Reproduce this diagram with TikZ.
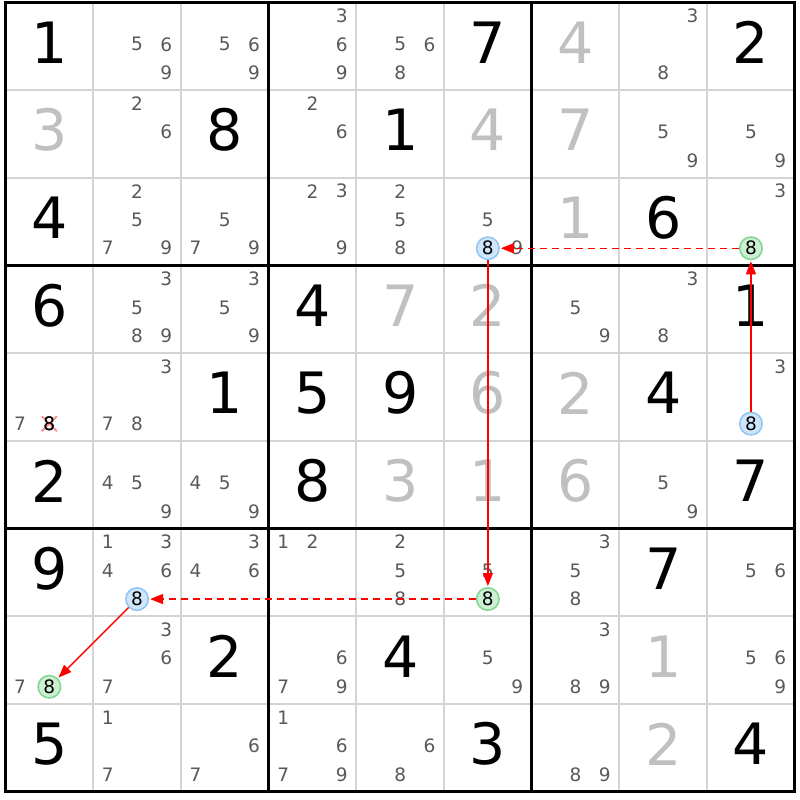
\documentclass[tikz,border=0pt]{standalone}
\usepackage{fontspec}
\setmainfont{DejaVu Sans}
\usetikzlibrary{arrows.meta}
\definecolor{candgrey}{HTML}{595959}
\definecolor{solvedgrey}{HTML}{C0C0C0}
\definecolor{thingrid}{HTML}{D4D4D4}
\definecolor{bluefill}{HTML}{CFE6FA}
\definecolor{blueline}{HTML}{8EC5F2}
\definecolor{greenfill}{HTML}{CDEFD2}
\definecolor{greenline}{HTML}{7FD68E}
\definecolor{linkred}{HTML}{FF0000}
\newcommand\givenat[3]{\node[givenst] (n#1#2) at ({5.5+87.7*(#2+0.5)},{2.5+87.7*(#1+0.5)-4}) {#3};}
\newcommand\solvedat[3]{\node[solvedst] (n#1#2) at ({5.5+87.7*(#2+0.5)},{2.5+87.7*(#1+0.5)-4}) {#3};}
\newcommand\candsat[3]{%
  \foreach \d in {#3}{%
    \pgfmathsetmacro\cx{5.5+87.7*(#2+0.5)+29.3*(mod(\d-1,3)-1)}%
    \pgfmathsetmacro\cy{2.5+87.7*(#1+0.5)-2+28.5*(floor((\d-1)/3)-1)}%
    \node[candst] (k#1#2\d) at (\cx,\cy) {\d};}}
% circled candidate: row, col, digit, style, name
\newcommand\circat[5]{%
  \pgfmathsetmacro\cx{5.5+87.7*(#2+0.5)+29.3*(mod(#3-1,3)-1)}%
  \pgfmathsetmacro\cy{2.5+87.7*(#1+0.5)-2+28.5*(floor((#3-1)/3)-1)}%
  \node[#4] (#5) at (\cx,\cy) {#3};}
\begin{document}
\begin{tikzpicture}[x=1pt,y=-1pt,
  givenst/.style={inner sep=0pt, font=\fontsize{57}{57}\selectfont, text=black},
  solvedst/.style={givenst, text=solvedgrey},
  candst/.style={inner sep=0pt, font=\fontsize{18.5}{18.5}\selectfont, text=candgrey},
  bluec/.style={circle, draw=blueline, fill=bluefill, line width=1.5pt, minimum size=22.5pt, inner sep=0pt, font=\fontsize{18.5}{18.5}\selectfont, text=black},
  greenc/.style={bluec, draw=greenline, fill=greenfill},
  plainblack/.style={inner sep=0pt, font=\fontsize{18.5}{18.5}\selectfont, text=black},
  stronglink/.style={draw=linkred, line width=1.3pt, -{Triangle[length=13pt,width=10pt,fill=linkred]}, shorten >=1pt},
  weaklink/.style={stronglink, line width=1.4pt, dash pattern=on 7pt off 5pt}
]
\useasboundingbox (0,0) rectangle (800,800);
\fill[white] (0,0) rectangle (800,800);
% thin grid
\foreach \i in {1,2,4,5,7,8}{
  \draw[thingrid, line width=2pt] ({5.5+87.7*\i},2.5) -- ({5.5+87.7*\i},791.8);
  \draw[thingrid, line width=2pt] (5.5,{2.5+87.7*\i}) -- (794.8,{2.5+87.7*\i});
}
% thick grid
\foreach \i in {0,3,6,9}{
  \draw[black, line width=3.2pt] ({5.5+87.7*\i},1) -- ({5.5+87.7*\i},793.3);
  \draw[black, line width=3.2pt] (4,{2.5+87.7*\i}) -- (796.3,{2.5+87.7*\i});
}
% row 0
\givenat{0}{0}{1} \candsat{0}{1}{5,6,9} \candsat{0}{2}{5,6,9} \candsat{0}{3}{3,6,9}
\candsat{0}{4}{5,6,8} \givenat{0}{5}{7} \solvedat{0}{6}{4} \candsat{0}{7}{3,8} \givenat{0}{8}{2}
% row 1
\solvedat{1}{0}{3} \candsat{1}{1}{2,6} \givenat{1}{2}{8} \candsat{1}{3}{2,6} \givenat{1}{4}{1}
\solvedat{1}{5}{4} \solvedat{1}{6}{7} \candsat{1}{7}{5,9} \candsat{1}{8}{5,9}
% row 2
\givenat{2}{0}{4} \candsat{2}{1}{2,5,7,9} \candsat{2}{2}{5,7,9} \candsat{2}{3}{2,3,9}
\candsat{2}{4}{2,5,8} \candsat{2}{5}{5,9} \solvedat{2}{6}{1} \givenat{2}{7}{6} \candsat{2}{8}{3}
% row 3
\givenat{3}{0}{6} \candsat{3}{1}{3,5,8,9} \candsat{3}{2}{3,5,9} \givenat{3}{3}{4} \solvedat{3}{4}{7}
\solvedat{3}{5}{2} \candsat{3}{6}{5,9} \candsat{3}{7}{3,8} \givenat{3}{8}{1}
% row 4
\candsat{4}{0}{7} \candsat{4}{1}{3,7,8} \givenat{4}{2}{1} \givenat{4}{3}{5} \givenat{4}{4}{9}
\solvedat{4}{5}{6} \solvedat{4}{6}{2} \givenat{4}{7}{4} \candsat{4}{8}{3}
% row 5
\givenat{5}{0}{2} \candsat{5}{1}{4,5,9} \candsat{5}{2}{4,5,9} \givenat{5}{3}{8} \solvedat{5}{4}{3}
\solvedat{5}{5}{1} \solvedat{5}{6}{6} \candsat{5}{7}{5,9} \givenat{5}{8}{7}
% row 6
\givenat{6}{0}{9} \candsat{6}{1}{1,3,4,6} \candsat{6}{2}{3,4,6} \candsat{6}{3}{1,2} \candsat{6}{4}{2,5,8}
\candsat{6}{5}{5} \candsat{6}{6}{3,5,8} \givenat{6}{7}{7} \candsat{6}{8}{5,6}
% row 7
\candsat{7}{0}{7} \candsat{7}{1}{3,6,7} \givenat{7}{2}{2} \candsat{7}{3}{6,7,9} \givenat{7}{4}{4}
\candsat{7}{5}{5,9} \candsat{7}{6}{3,8,9} \solvedat{7}{7}{1} \candsat{7}{8}{5,6,9}
% row 8
\givenat{8}{0}{5} \candsat{8}{1}{1,7} \candsat{8}{2}{6,7} \candsat{8}{3}{1,6,7,9} \candsat{8}{4}{6,8}
\givenat{8}{5}{3} \candsat{8}{6}{8,9} \solvedat{8}{7}{2} \givenat{8}{8}{4}
% eliminated candidate
\circat{4}{0}{8}{plainblack}{elim}
\draw[red!45, line width=1.8pt] ([shift={(-7.5,-7.5)}]elim.center) -- ([shift={(7.5,7.5)}]elim.center)
  ([shift={(-7.5,7.5)}]elim.center) -- ([shift={(7.5,-7.5)}]elim.center);
\node[plainblack] (elimtop) at (elim.center) {8};
% chain candidates
\circat{4}{8}{8}{bluec}{p1}
\circat{2}{8}{8}{greenc}{p2}
\circat{2}{5}{8}{bluec}{p3}
\circat{6}{5}{8}{greenc}{p4}
\circat{6}{1}{8}{bluec}{p5}
\circat{7}{0}{8}{greenc}{p6}
% links
\draw[stronglink] (p1) -- (p2);
\draw[weaklink] (p2) -- (p3);
\draw[stronglink] (p3) -- (p4);
\draw[weaklink] (p4) -- (p5);
\draw[stronglink] (p5) -- (p6);
\end{tikzpicture}
\end{document}
